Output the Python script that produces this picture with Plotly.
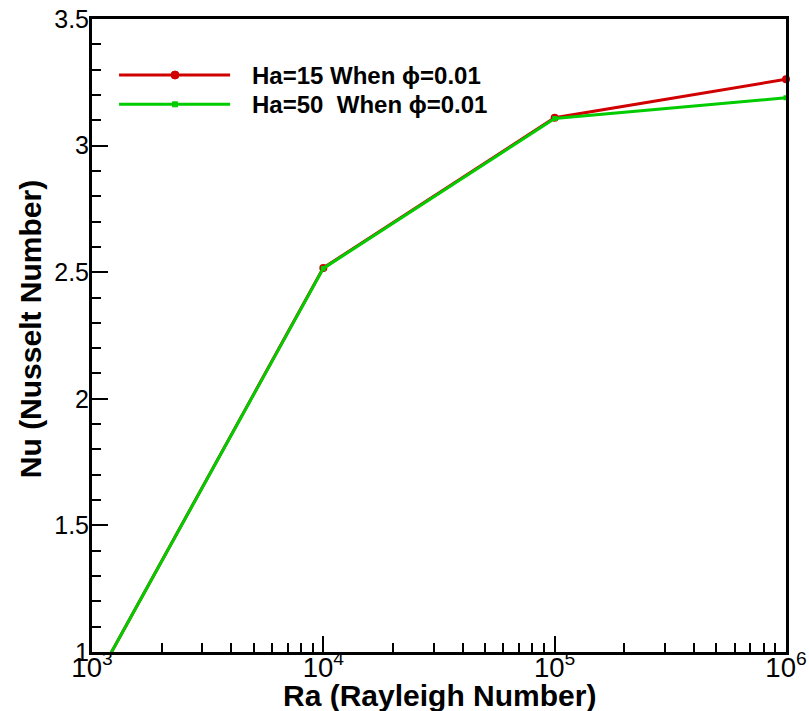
import numpy as np
import plotly.graph_objects as go

ra = [1e3, 1e4, 1e5, 1e6]
nu_ha15 = [0.86, 2.517, 3.110, 3.262]
nu_ha50 = [0.86, 2.515, 3.107, 3.189]
names = ["Ha=15 When \u03d5=0.01", "Ha=50  When \u03d5=0.01"]
colors = ["#d10000", "#00cc00"]
symbols = ["circle", "square"]
msizes = [8, 5]

y_range = [1, 3.5]
FONT = "Liberation Sans, Arial, sans-serif"

fig = go.Figure()
for vals, name, col, sym, ms in zip([nu_ha15, nu_ha50], names, colors, symbols, msizes):
    x = np.array(ra)
    y = np.array(vals)
    fig.add_trace(go.Scatter(x=x, y=y, mode="lines", line=dict(color=col, width=3),
                             name=name, showlegend=False))
    mask = (y >= y_range[0]) & (y <= y_range[1])
    fig.add_trace(go.Scatter(x=x[mask], y=y[mask], mode="markers",
                             marker=dict(color=col, symbol=sym, size=ms),
                             cliponaxis=False, showlegend=False, hoverinfo="skip"))

# custom legend (long line samples like the original)
leg_y = [0.9115, 0.8652]
for ly, name, col, sym, ms in zip(leg_y, names, colors, symbols, msizes):
    fig.add_shape(type="line", xref="paper", yref="paper", x0=0.039, x1=0.199, y0=ly, y1=ly,
                  line=dict(color=col, width=3))
    fig.add_shape(type="circle" if sym == "circle" else "rect", xref="paper", yref="paper",
                  xsizemode="pixel", ysizemode="pixel", xanchor=0.1196, yanchor=ly,
                  x0=-ms / 2, x1=ms / 2, y0=-ms / 2, y1=ms / 2,
                  fillcolor=col, line=dict(color=col, width=1))
    fig.add_annotation(x=0.2277, y=ly, xref="paper", yref="paper", text="<b>%s</b>" % name,
                       showarrow=False, xanchor="left", yanchor="middle",
                       font=dict(family=FONT, size=24, color="black"))

# axis titles
fig.add_annotation(x=0.5, y=-0.068, xref="paper", yref="paper",
                   text="<b>Ra (Rayleigh Number)</b>", showarrow=False,
                   xanchor="center", yanchor="middle",
                   font=dict(family=FONT, size=30, color="black"))
fig.add_annotation(x=-0.0893, y=0.51, xref="paper", yref="paper",
                   text="<b>Nu (Nusselt Number)</b>", showarrow=False, textangle=-90,
                   xanchor="center", yanchor="middle",
                   font=dict(family=FONT, size=30, color="black"))

fig.update_xaxes(
    type="log", range=[3, 6], dtick=1, exponentformat="power", showexponent="all",
    showline=True, linecolor="black", linewidth=3, mirror=True,
    ticks="inside", ticklen=16, tickwidth=2, tickcolor="black",
    minor=dict(ticks="inside", ticklen=9, tickwidth=1.5, tickcolor="black", showgrid=False),
    showgrid=False, zeroline=False, automargin=False,
    tickfont=dict(family=FONT, size=22, color="black"), ticklabelstandoff=-10,
)
fig.update_yaxes(
    range=y_range, dtick=0.5, tick0=1,
    showline=True, linecolor="black", linewidth=3, mirror=True,
    ticks="inside", ticklen=16, tickwidth=2, tickcolor="black",
    minor=dict(ticks="inside", dtick=0.1, ticklen=9, tickwidth=1.5, tickcolor="black", showgrid=False),
    showgrid=False, zeroline=False, automargin=False,
    tickfont=dict(family=FONT, size=25, color="black"), ticklabelstandoff=-5,
)
fig.update_layout(
    width=809, height=711,
    margin=dict(l=92, r=23, t=19, b=59),
    plot_bgcolor="white", paper_bgcolor="white",
    showlegend=False,
)
fig.write_html("out.html", config={"displayModeBar": False},
               post_script="document.body.style.margin='0';document.body.style.overflow='hidden';")
